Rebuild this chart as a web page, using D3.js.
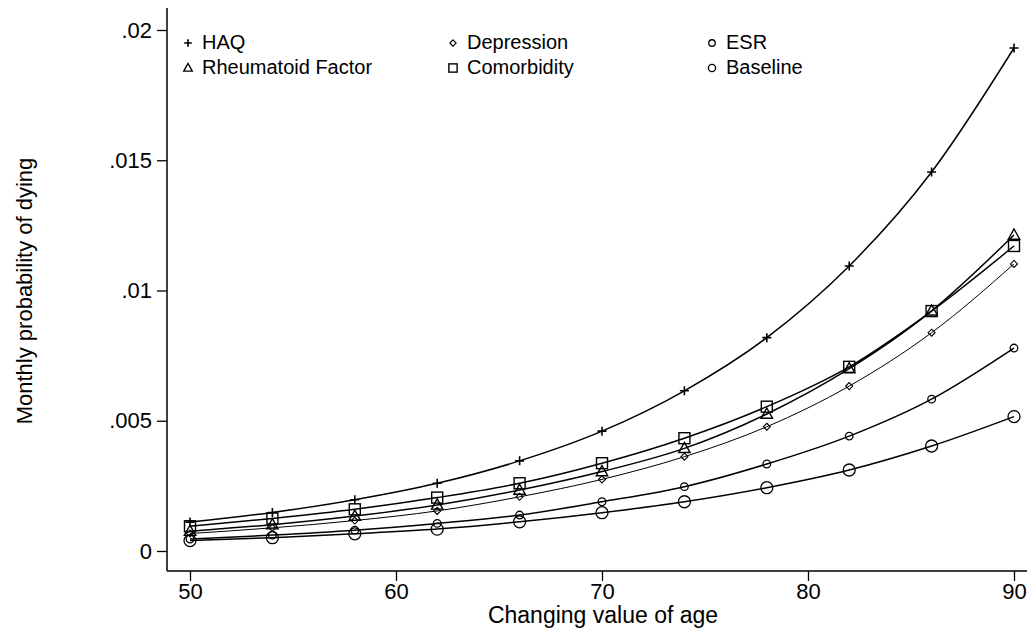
<!DOCTYPE html>
<html>
<head>
<meta charset="utf-8">
<script src="https://cdn.jsdelivr.net/npm/d3@7"></script>
<style>
  body { margin: 0; background: #fff; }
  text { font-family: "Liberation Sans", Arial, sans-serif; fill: #000; }
</style>
</head>
<body>
<div id="chart"></div>
<script>
// ages on the x axis
var ages = [50, 54, 58, 62, 66, 70, 74, 78, 82, 86, 90];

// monthly probability of dying
var haq = [0.00111, 0.00148, 0.00197, 0.00260, 0.00346, 0.00460, 0.00615, 0.00819, 0.01094, 0.01455, 0.01931];
var rheumatoid = [0.00076, 0.00101, 0.00134, 0.00177, 0.00234, 0.00305, 0.00394, 0.00526, 0.00700, 0.00922, 0.01213];
var comorbidity = [0.00095, 0.00125, 0.00160, 0.00205, 0.00260, 0.00337, 0.00433, 0.00554, 0.00707, 0.00921, 0.01171];
var depression = [0.00067, 0.00089, 0.00117, 0.00154, 0.00208, 0.00275, 0.00362, 0.00477, 0.00633, 0.00838, 0.01102];
var esr = [0.00046, 0.00061, 0.00080, 0.00106, 0.00138, 0.00189, 0.00247, 0.00334, 0.00441, 0.00583, 0.00779];
var baseline = [0.00040, 0.00051, 0.00066, 0.00084, 0.00112, 0.00147, 0.00189, 0.00243, 0.00311, 0.00403, 0.00516];

var yTicks = [0, 0.005, 0.01, 0.015, 0.02];
var yTickLabels = ["0", ".005", ".01", ".015", ".02"];
var xTicks = [50, 60, 70, 80, 90];

var series = [
    { name: "HAQ", values: haq, sym: "plus", width: 1.5 },
    { name: "Rheumatoid Factor", values: rheumatoid, sym: "tri", width: 1.5 },
    { name: "Depression", values: depression, sym: "diamond", width: 1 },
    { name: "Comorbidity", values: comorbidity, sym: "square", width: 1.5 },
    { name: "ESR", values: esr, sym: "smallcircle", width: 1.5 },
    { name: "Baseline", values: baseline, sym: "circle", width: 1.5 }
];

var W = 1027, H = 631;
var svg = d3.select("#chart").append("svg")
    .attr("width", W)
    .attr("height", H);

var x = d3.scaleLinear().domain([50, 90]).range([190, 1014]);
var y = d3.scaleLinear().domain([0, 0.02]).range([551, 30]);

// axes
var yAxis = svg.append("g")
    .attr("transform", "translate(167,0)")
    .call(d3.axisLeft(y).tickValues(yTicks).tickSize(10).tickSizeOuter(0)
        .tickFormat(function (d, i) { return yTickLabels[i]; }));
yAxis.select(".domain").remove();
yAxis.selectAll(".tick line").attr("stroke", "#000").attr("stroke-width", 1.3);
yAxis.selectAll(".tick text").attr("font-size", 22).attr("x", -15).attr("font-family", "Liberation Sans, Arial, sans-serif");

var xAxis = svg.append("g")
    .attr("transform", "translate(0,571)")
    .call(d3.axisBottom(x).tickValues(xTicks).tickSize(10).tickSizeOuter(0)
        .tickFormat(d3.format("d")));
xAxis.select(".domain").remove();
xAxis.selectAll(".tick line").attr("stroke", "#000").attr("stroke-width", 1.3);
xAxis.selectAll(".tick text").attr("font-size", 22).attr("y", 12).attr("font-family", "Liberation Sans, Arial, sans-serif");

svg.append("line").attr("x1", 167).attr("x2", 167).attr("y1", 8).attr("y2", 571)
    .attr("stroke", "#000").attr("stroke-width", 1.5);
svg.append("line").attr("x1", 167).attr("x2", 1027).attr("y1", 571).attr("y2", 571)
    .attr("stroke", "#000").attr("stroke-width", 1.5);

svg.append("text")
    .attr("transform", "translate(32,291) rotate(-90)")
    .attr("text-anchor", "middle")
    .attr("font-size", 22)
    .text("Monthly probability of dying");

svg.append("text")
    .attr("x", 603).attr("y", 623)
    .attr("text-anchor", "middle")
    .attr("font-size", 23)
    .text("Changing value of age");

// marker drawing
function drawSymbol(g, sym, cx, cy, scale) {
    var s = scale || 1;
    if (sym === "plus") {
        var a = 4.5 * s;
        g.append("path")
            .attr("d", "M" + (cx - a) + "," + cy + "H" + (cx + a) + "M" + cx + "," + (cy - a) + "V" + (cy + a))
            .attr("stroke", "#000").attr("stroke-width", 1.6).attr("fill", "none");
    } else if (sym === "tri") {
        var t = 6 * s;
        g.append("path")
            .attr("d", "M" + cx + "," + (cy - t) + "L" + (cx + t * 0.95) + "," + (cy + t * 0.7) + "L" + (cx - t * 0.95) + "," + (cy + t * 0.7) + "Z")
            .attr("stroke", "#000").attr("stroke-width", 1.4).attr("fill", "none");
    } else if (sym === "square") {
        var q = 5.5 * s;
        g.append("rect")
            .attr("x", cx - q).attr("y", cy - q).attr("width", 2 * q).attr("height", 2 * q)
            .attr("stroke", "#000").attr("stroke-width", 1.4).attr("fill", "none");
    } else if (sym === "diamond") {
        var d = 3.5 * s;
        g.append("path")
            .attr("d", "M" + cx + "," + (cy - d) + "L" + (cx + d) + "," + cy + "L" + cx + "," + (cy + d) + "L" + (cx - d) + "," + cy + "Z")
            .attr("stroke", "#000").attr("stroke-width", 1.1).attr("fill", "none");
    } else if (sym === "smallcircle") {
        g.append("circle").attr("cx", cx).attr("cy", cy).attr("r", 3.8 * s)
            .attr("stroke", "#000").attr("stroke-width", 1.3).attr("fill", "none");
    } else if (sym === "circle") {
        g.append("circle").attr("cx", cx).attr("cy", cy).attr("r", 6 * s)
            .attr("stroke", "#000").attr("stroke-width", 1.3).attr("fill", "none");
    }
}

var line = d3.line()
    .x(function (d, i) { return x(ages[i]); })
    .y(function (d) { return y(d); })
    .curve(d3.curveMonotoneX);

var plot = svg.append("g");
series.forEach(function (s) {
    plot.append("path")
        .datum(s.values)
        .attr("d", line)
        .attr("fill", "none")
        .attr("stroke", "#000")
        .attr("stroke-width", s.width);
    var g = plot.append("g");
    s.values.forEach(function (v, i) {
        drawSymbol(g, s.sym, x(ages[i]), y(v), 1);
    });
});

// legend
var legendItems = [
    { name: "HAQ", sym: "plus", col: 0, row: 0 },
    { name: "Rheumatoid Factor", sym: "tri", col: 0, row: 1 },
    { name: "Depression", sym: "diamond", col: 1, row: 0 },
    { name: "Comorbidity", sym: "square", col: 1, row: 1 },
    { name: "ESR", sym: "smallcircle", col: 2, row: 0 },
    { name: "Baseline", sym: "circle", col: 2, row: 1 }
];
var colX = [188, 453, 712];
var rowY = [42, 67];
var legend = svg.append("g");
legendItems.forEach(function (d) {
    var sc = { plus: 0.85, tri: 0.75, square: 0.75, diamond: 0.9, smallcircle: 0.85, circle: 0.6 }[d.sym];
    drawSymbol(legend, d.sym, colX[d.col], rowY[d.row] + 1, sc);
    legend.append("text")
        .attr("x", colX[d.col] + 14)
        .attr("y", rowY[d.row] + 7)
        .attr("font-size", 20)
        .text(d.name);
});
</script>
</body>
</html>
